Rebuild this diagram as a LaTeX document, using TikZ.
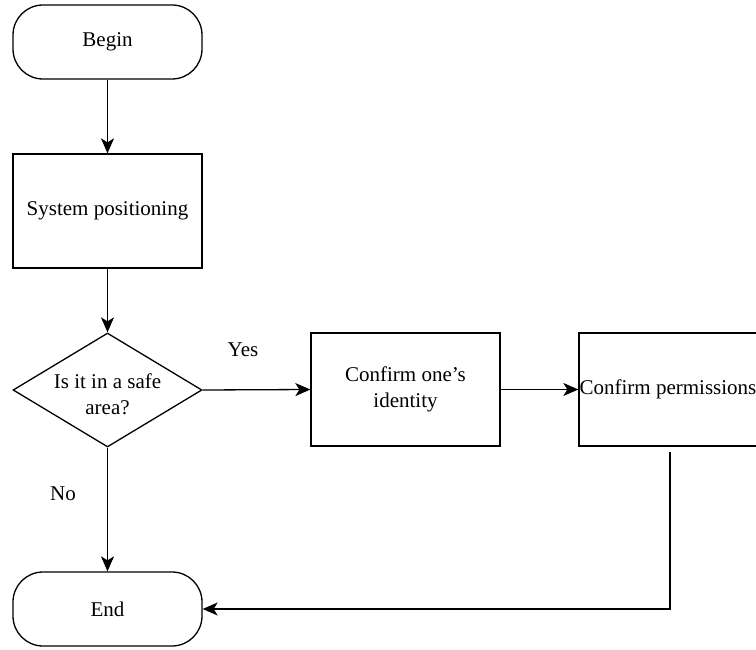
\documentclass[tikz,border=0pt]{standalone}
\usepackage{fontspec}
\setmainfont{Liberation Serif}
\usetikzlibrary{shapes.geometric,arrows.meta}
\begin{document}
\begin{tikzpicture}[x=1pt,y=-1pt,
  every node/.style={font=\fontsize{21}{26}\selectfont, text=black},
  base/.style={draw=black, line width=1.3pt, inner sep=0pt},
  term/.style={base, rounded corners=30pt, minimum width=189pt, minimum height=74pt},
  proc/.style={base, minimum width=189pt, minimum height=114pt, align=center},
  dia/.style={base, diamond, minimum width=189pt, minimum height=114pt},
  arr/.style={draw=black, line width=1.3pt, -{Stealth[length=15pt,width=13pt,inset=4pt]}},
  lbl/.style={inner sep=0pt}
]
\useasboundingbox (0,0) rectangle (756,650);
\clip (0,0) rectangle (756,650);
\fill[white] (0,0) rectangle (756,650);

\node[term] (begin) at (107.5,42) {Begin};
\node[proc] (sys) at (107.5,211) {System positioning};
\node[dia] (dec) at (107.5,390) {};
\node[lbl, align=center] (dectext) at (107.5,394) {Is it in a safe\\area?};
\node[proc, minimum height=113pt] (ident) at (405.5,389.5) {Confirm one's\\identity};
\node[proc, minimum height=113pt, minimum width=178pt] (perm) at (668,389.5) {Confirm permissions};
\node[term] (end) at (107.5,609) {End};

\node[lbl] (yes) at (243,350) {Yes};
\node[lbl] (no) at (63,494) {No};

\draw[arr] (begin) -- (sys);
\draw[arr] (sys) -- (dec);
\draw[arr] (dec.east) -- (ident.west);
\draw[arr] (ident.east) -- (perm.west);
\draw[arr] (dec.south) -- (end.north);
\coordinate (pstart) at ([yshift=-5pt]perm.south);
\draw[arr] ([xshift=2pt]pstart) |- (end.east);
\end{tikzpicture}
\end{document}
